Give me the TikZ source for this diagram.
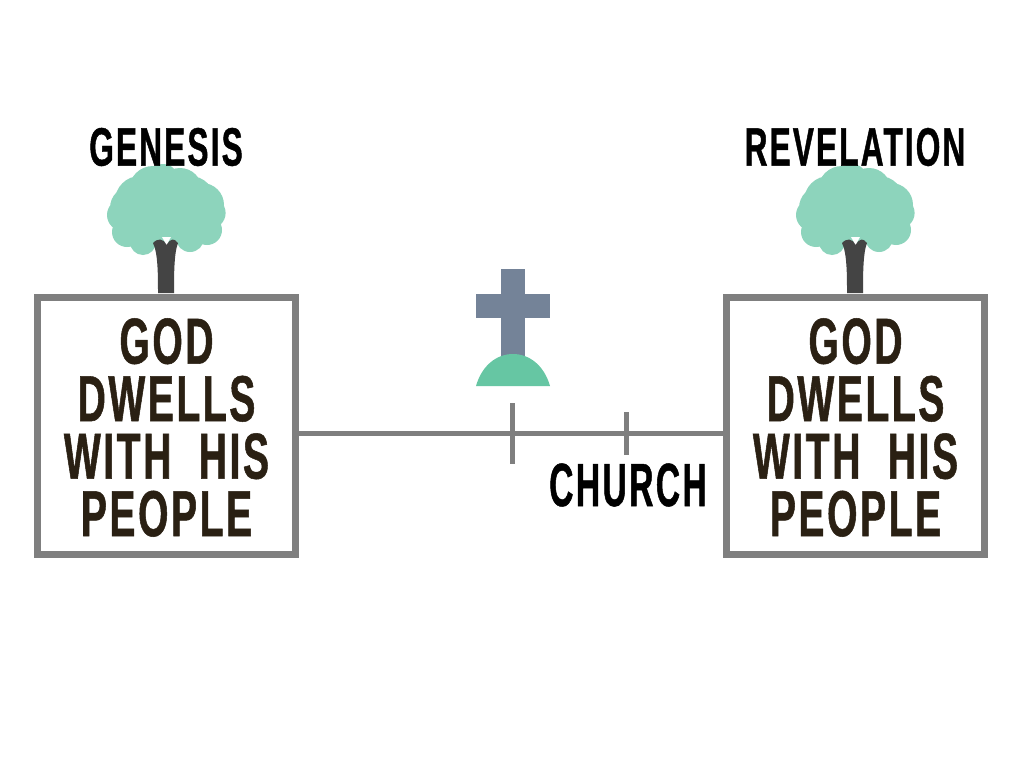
\documentclass[tikz,border=0pt]{standalone}
\usepackage{fontspec}
\newfontfamily\postfont[FakeStretch=0.6,FakeBold=0.8,LetterSpace=4,BoldFont={Liberation Sans Bold}]{Liberation Sans Bold}
\newfontfamily\bookfont[FakeStretch=0.585,FakeBold=0.8,LetterSpace=4,BoldFont={Liberation Sans Bold}]{Liberation Sans Bold}
\newfontfamily\churchfont[FakeStretch=0.55,FakeBold=0.8,LetterSpace=4,BoldFont={Liberation Sans Bold}]{Liberation Sans Bold}
\usetikzlibrary{positioning}
\definecolor{treegreen}{HTML}{8DD4BC}
\definecolor{trunkgrey}{HTML}{444444}
\definecolor{linegrey}{HTML}{7F7F7F}
\definecolor{crossblue}{HTML}{748398}
\definecolor{moundgreen}{HTML}{66C6A3}
\definecolor{boxtext}{HTML}{2A2013}
\tikzset{
  dwellbox/.style={draw=linegrey,line width=7pt,fill=white,minimum width=258pt,minimum height=257pt,inner sep=0pt},
  dwelltext/.style={inner sep=0pt,align=center,text=boxtext,font=\postfont\fontsize{65}{57.5}\selectfont},
  booklabel/.style={inner sep=0pt,text=black,font=\bookfont\fontsize{54}{54}\selectfont},
  timeline/.style={draw=linegrey,line width=5pt},
  pics/tree/.style={code={
    \fill [treegreen] (0,-218) circle (36)
      (-13,-235) circle (24) (14,-235) circle (22) (-3,-246) circle (15)
      (-26,-224) circle (25) (24,-224) circle (25)
      (-34,-217) circle (22) (-43,-210) circle (16) (-39,-193) circle (15)
      (-23,-183) circle (13) (24,-187) circle (14) (36,-220) circle (22)
      (44,-212) circle (15.6) (41,-195) circle (15);
    \fill [white] (-4,-188) -- (5,-188) -- (0.5,-180) -- cycle;
    \fill [trunkgrey] (-13,-182) .. controls (-8,-172) and (-8,-150) .. (-8,-132)
      -- (8,-132) .. controls (8,-150) and (8,-172) .. (12,-182)
      .. controls (8,-187) and (5,-187) .. (0.5,-180) .. controls (-3,-187) and (-8,-187) .. (-13,-182) -- cycle;
  }}
}
\begin{document}
\begin{tikzpicture}[x=1pt,y=-1pt]
  \useasboundingbox [fill=white] (0,0) rectangle (1024,768);
  % trees stand behind the boxes
  \pic at (166,425) {tree};
  \pic at (855,425) {tree};
  \node [dwellbox] (leftbox) at (166.5,425.5) {};
  \node [dwellbox] (rightbox) at (855.5,425.5) {};
  \node [dwelltext] (lefttext) at (166.5,427.5) {GOD\\DWELLS\\WITH\hspace{14pt} HIS\\PEOPLE};
  \node [dwelltext] (righttext) at (855.5,427.5) {GOD\\DWELLS\\WITH\hspace{14pt} HIS\\PEOPLE};
  \node [booklabel] (genesis) at (166,147) {GENESIS};
  \node [booklabel] (revelation) at (855,147) {REVELATION};
  \node [booklabel,font=\churchfont\fontsize{61}{61}\selectfont] (church) at (628,485) {CHURCH};
  \coordinate (crosstop) at (512,403);
  \coordinate (crossbot) at (512,464);
  \coordinate (churchtop) at (626,412);
  \coordinate (churchbot) at (626,455);
  \coordinate (axis) at (512,433);
  \draw [timeline] (leftbox.east |- axis) -- (rightbox.west |- axis);
  \draw [timeline] (crosstop) -- (crossbot);
  \draw [timeline] (churchtop) -- (churchbot);
  % cross on its mound
  \fill [crossblue] (501,269) rectangle (525,360);
  \fill [crossblue] (476,293.5) rectangle (550,318);
  \fill [moundgreen] (476,386) .. controls (482,365) and (497,354) .. (513,354)
    .. controls (529,354) and (544,365) .. (550,386) -- cycle;
\end{tikzpicture}
\end{document}
